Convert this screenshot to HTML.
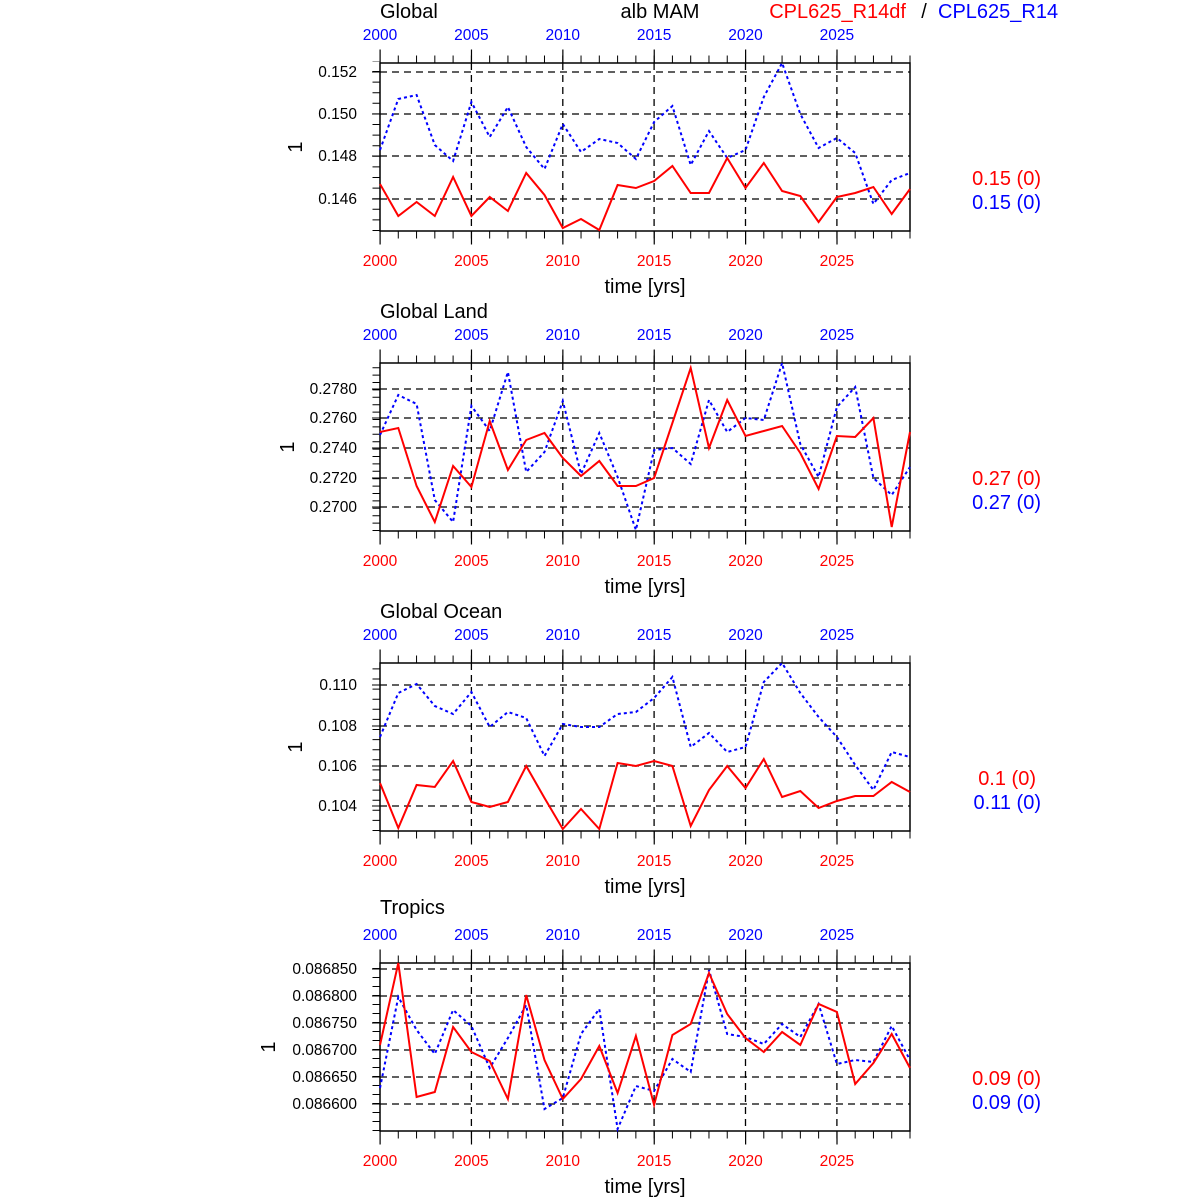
<!DOCTYPE html>
<html><head><meta charset="utf-8"><style>
html,body{margin:0;padding:0;background:#fff}
svg{display:block;font-family:"Liberation Sans",sans-serif}
.t{font-size:20px}
.k{font-size:15.5px}
.r{fill:#f00}.b{fill:#00f}
</style></head><body>
<svg width="1200" height="1200" viewBox="0 0 1200 1200" xmlns="http://www.w3.org/2000/svg">
<defs>
<g id="frame">
  <rect x="380" y="63" width="530" height="168" fill="none" stroke="#000" stroke-width="1.5"/>
  <g stroke="#000" stroke-width="1.3" stroke-dasharray="7 5" fill="none">
    <line x1="471.4" y1="63" x2="471.4" y2="231"/><line x1="562.8" y1="63" x2="562.8" y2="231"/>
    <line x1="654.1" y1="63" x2="654.1" y2="231"/><line x1="745.5" y1="63" x2="745.5" y2="231"/>
    <line x1="836.9" y1="63" x2="836.9" y2="231"/>
  </g>
  <g stroke="#000" stroke-width="1" fill="none">
    <line x1="379.5" y1="59" x2="911" y2="59" stroke-width="7" stroke-dasharray="1 17.276"/>
    <line x1="379.5" y1="235" x2="911" y2="235" stroke-width="7" stroke-dasharray="1 17.276"/>
    <line x1="379.5" y1="56" x2="911" y2="56" stroke-width="13" stroke-dasharray="1.2 90.18"/>
    <line x1="379.5" y1="238" x2="911" y2="238" stroke-width="13" stroke-dasharray="1.2 90.18"/>
  </g>
  <text x="645" y="293" text-anchor="middle" class="t">time [yrs]</text>
  <g class="k r" text-anchor="middle">
    <text x="380" y="266">2000</text><text x="471.4" y="266">2005</text><text x="562.8" y="266">2010</text>
    <text x="654.1" y="266">2015</text><text x="745.5" y="266">2020</text><text x="836.9" y="266">2025</text>
  </g>
  <g class="k b" text-anchor="middle">
    <text x="380" y="40">2000</text><text x="471.4" y="40">2005</text><text x="562.8" y="40">2010</text>
    <text x="654.1" y="40">2015</text><text x="745.5" y="40">2020</text><text x="836.9" y="40">2025</text>
  </g>
</g>
</defs>

<text x="380" y="18" class="t">Global</text>
<text x="660" y="18" class="t" text-anchor="middle">alb MAM</text>
<text x="906" y="18" class="t r" text-anchor="end">CPL625_R14df</text>
<text x="924" y="18" class="t" text-anchor="middle">/</text>
<text x="938" y="18" class="t b">CPL625_R14</text>

<!-- Panel 1 -->
<use href="#frame"/>
<g stroke="#000" stroke-width="1.3" stroke-dasharray="7 5">
<line x1="380" y1="72" x2="910" y2="72"/><line x1="380" y1="114" x2="910" y2="114"/>
<line x1="380" y1="156" x2="910" y2="156"/><line x1="380" y1="199" x2="910" y2="199"/>
</g>
<line x1="376" y1="231" x2="376" y2="61" stroke="#000" stroke-width="7" stroke-dasharray="1 9.6"/>
<g stroke="#000"><line x1="372" y1="72" x2="380" y2="72"/><line x1="372" y1="114" x2="380" y2="114"/><line x1="372" y1="156" x2="380" y2="156"/><line x1="372" y1="199" x2="380" y2="199"/></g>
<g class="k" text-anchor="end"><text x="357" y="77">0.152</text><text x="357" y="119">0.150</text><text x="357" y="161">0.148</text><text x="357" y="204">0.146</text></g>
<text transform="translate(302,147) rotate(-90)" class="t" text-anchor="middle">1</text>
<polyline fill="none" stroke="#00f" stroke-width="2" stroke-dasharray="3 3" points="380,150 398.3,99 416.6,95 434.8,145 453.1,161 471.4,102 489.7,137 507.9,107 526.2,147 544.5,169 562.8,124 581,152 599.3,139 617.6,143 635.9,159 654.1,122 672.4,106 690.7,165 709,131 727.2,158 745.5,150 763.8,97 782.1,63 800.3,114 818.6,148 836.9,138 855.2,153 873.4,204 891.7,180 910,173"/>
<polyline fill="none" stroke="#f00" stroke-width="2" points="380,184 398.3,216 416.6,202 434.8,216 453.1,177 471.4,216 489.7,197 507.9,211 526.2,173 544.5,195 562.8,228 581,219 599.3,230 617.6,185 635.9,188 654.1,181 672.4,166 690.7,193 709,193 727.2,158 745.5,188 763.8,163 782.1,191 800.3,196 818.6,222 836.9,197 855.2,193 873.4,187 891.7,214 910,189"/>
<text x="1041" y="185" class="t r" text-anchor="end">0.15 (0)</text>
<text x="1041" y="209" class="t b" text-anchor="end">0.15 (0)</text>

<!-- Panel 2 -->
<text x="380" y="318" class="t">Global Land</text>
<use href="#frame" y="300"/>
<g stroke="#000" stroke-width="1.3" stroke-dasharray="7 5">
<line x1="380" y1="389" x2="910" y2="389"/><line x1="380" y1="418" x2="910" y2="418"/>
<line x1="380" y1="448" x2="910" y2="448"/><line x1="380" y1="478" x2="910" y2="478"/><line x1="380" y1="507" x2="910" y2="507"/>
</g>
<line x1="376" y1="531" x2="376" y2="361" stroke="#000" stroke-width="7" stroke-dasharray="1 6.4"/>
<g stroke="#000"><line x1="372" y1="389" x2="380" y2="389"/><line x1="372" y1="418" x2="380" y2="418"/><line x1="372" y1="448" x2="380" y2="448"/><line x1="372" y1="478" x2="380" y2="478"/><line x1="372" y1="507" x2="380" y2="507"/></g>
<g class="k" text-anchor="end"><text x="357" y="394">0.2780</text><text x="357" y="423">0.2760</text><text x="357" y="453">0.2740</text><text x="357" y="483">0.2720</text><text x="357" y="512">0.2700</text></g>
<text transform="translate(294,447) rotate(-90)" class="t" text-anchor="middle">1</text>
<polyline fill="none" stroke="#00f" stroke-width="2" stroke-dasharray="3 3" points="380,435 398.3,395 416.6,404 434.8,500 453.1,522 471.4,406 489.7,431 507.9,372 526.2,472 544.5,452 562.8,401 581,474 599.3,433 617.6,477 635.9,530 654.1,450 672.4,448 690.7,464 709,400 727.2,432 745.5,418 763.8,420 782.1,363 800.3,444 818.6,477 836.9,407 855.2,387 873.4,478 891.7,495 910,467"/>
<polyline fill="none" stroke="#f00" stroke-width="2" points="380,432 398.3,428 416.6,486 434.8,522 453.1,466 471.4,487 489.7,421 507.9,470 526.2,440 544.5,433 562.8,458 581,476 599.3,461 617.6,486 635.9,486 654.1,478 672.4,423 690.7,368 709,448 727.2,400 745.5,436 763.8,431 782.1,426 800.3,453 818.6,489 836.9,436 855.2,437 873.4,418 891.7,527 910,432"/>
<text x="1041" y="485" class="t r" text-anchor="end">0.27 (0)</text>
<text x="1041" y="509" class="t b" text-anchor="end">0.27 (0)</text>

<!-- Panel 3 -->
<text x="380" y="618" class="t">Global Ocean</text>
<use href="#frame" y="600"/>
<g stroke="#000" stroke-width="1.3" stroke-dasharray="7 5">
<line x1="380" y1="685" x2="910" y2="685"/><line x1="380" y1="726" x2="910" y2="726"/>
<line x1="380" y1="766" x2="910" y2="766"/><line x1="380" y1="806" x2="910" y2="806"/>
</g>
<line x1="376" y1="831" x2="376" y2="661" stroke="#000" stroke-width="7" stroke-dasharray="1 9.1"/>
<g stroke="#000"><line x1="372" y1="685" x2="380" y2="685"/><line x1="372" y1="726" x2="380" y2="726"/><line x1="372" y1="766" x2="380" y2="766"/><line x1="372" y1="806" x2="380" y2="806"/></g>
<g class="k" text-anchor="end"><text x="357" y="690">0.110</text><text x="357" y="731">0.108</text><text x="357" y="771">0.106</text><text x="357" y="811">0.104</text></g>
<text transform="translate(302,747) rotate(-90)" class="t" text-anchor="middle">1</text>
<polyline fill="none" stroke="#00f" stroke-width="2" stroke-dasharray="3 3" points="380,737 398.3,693 416.6,684 434.8,706 453.1,714 471.4,692 489.7,727 507.9,712 526.2,718 544.5,756 562.8,724 581,727 599.3,727 617.6,714 635.9,712 654.1,698 672.4,677 690.7,747 709,733 727.2,752 745.5,747 763.8,682 782.1,663 800.3,693 818.6,717 836.9,737 855.2,765 873.4,790 891.7,752 910,757"/>
<polyline fill="none" stroke="#f00" stroke-width="2" points="380,783 398.3,828 416.6,785 434.8,787 453.1,761 471.4,802 489.7,807 507.9,802 526.2,766 544.5,798 562.8,829 581,809 599.3,829 617.6,763 635.9,766 654.1,761 672.4,766 690.7,826 709,790 727.2,766 745.5,788 763.8,759 782.1,797 800.3,791 818.6,808 836.9,801 855.2,796 873.4,796 891.7,782 910,792"/>
<text x="1036" y="785" class="t r" text-anchor="end">0.1 (0)</text>
<text x="1041" y="809" class="t b" text-anchor="end">0.11 (0)</text>

<!-- Panel 4 -->
<text x="380" y="914" class="t">Tropics</text>
<use href="#frame" y="900"/>
<g stroke="#000" stroke-width="1.3" stroke-dasharray="7 5">
<line x1="380" y1="969" x2="910" y2="969"/><line x1="380" y1="996" x2="910" y2="996"/><line x1="380" y1="1023" x2="910" y2="1023"/>
<line x1="380" y1="1050" x2="910" y2="1050"/><line x1="380" y1="1077" x2="910" y2="1077"/><line x1="380" y1="1104" x2="910" y2="1104"/>
</g>
<line x1="376" y1="1131" x2="376" y2="961" stroke="#000" stroke-width="7" stroke-dasharray="1 8"/>
<g stroke="#000"><line x1="372" y1="969" x2="380" y2="969"/><line x1="372" y1="996" x2="380" y2="996"/><line x1="372" y1="1023" x2="380" y2="1023"/><line x1="372" y1="1050" x2="380" y2="1050"/><line x1="372" y1="1077" x2="380" y2="1077"/><line x1="372" y1="1104" x2="380" y2="1104"/></g>
<g class="k" text-anchor="end"><text x="357" y="974">0.086850</text><text x="357" y="1001">0.086800</text><text x="357" y="1028">0.086750</text><text x="357" y="1055">0.086700</text><text x="357" y="1082">0.086650</text><text x="357" y="1109">0.086600</text></g>
<text transform="translate(275,1047) rotate(-90)" class="t" text-anchor="middle">1</text>
<polyline fill="none" stroke="#00f" stroke-width="2" stroke-dasharray="3 3" points="380,1088 398.3,997 416.6,1030 434.8,1054 453.1,1010 471.4,1026 489.7,1068 507.9,1038 526.2,1005 544.5,1109 562.8,1098 581,1034 599.3,1009 617.6,1129 635.9,1086 654.1,1091 672.4,1059 690.7,1072 709,970 727.2,1034 745.5,1037 763.8,1044 782.1,1024 800.3,1037 818.6,1004 836.9,1064 855.2,1060 873.4,1062 891.7,1026 910,1060"/>
<polyline fill="none" stroke="#f00" stroke-width="2" points="380,1045 398.3,963 416.6,1097 434.8,1092 453.1,1027 471.4,1052 489.7,1061 507.9,1099 526.2,995 544.5,1060 562.8,1099 581,1079 599.3,1046 617.6,1093 635.9,1036 654.1,1105 672.4,1035 690.7,1024 709,973 727.2,1014 745.5,1038 763.8,1052 782.1,1032 800.3,1045 818.6,1004 836.9,1012 855.2,1084 873.4,1063 891.7,1034 910,1068"/>
<text x="1041" y="1085" class="t r" text-anchor="end">0.09 (0)</text>
<text x="1041" y="1109" class="t b" text-anchor="end">0.09 (0)</text>
</svg>
</body></html>
